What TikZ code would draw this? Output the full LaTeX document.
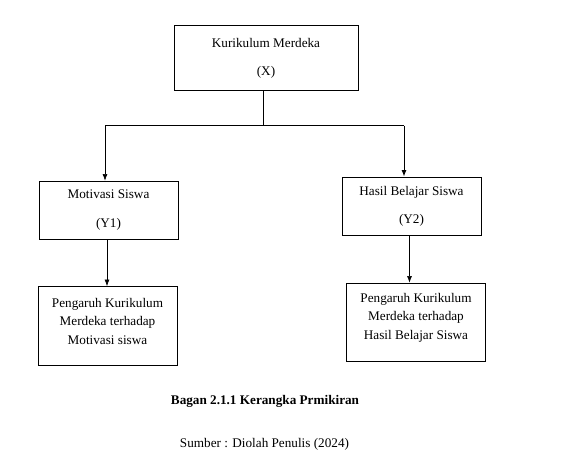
\documentclass[tikz,border=0pt]{standalone}
\usepackage{fontspec}
\setmainfont{Liberation Serif}
\usepackage{tikz}
\usetikzlibrary{positioning}
\usetikzlibrary{arrows.meta}
\tikzset{>={Latex[length=6.5pt,width=5pt]}}
\tikzset{kotak/.style={shape=rectangle, draw, line width=0.9pt, align=center, inner sep=0pt,
    minimum width=139pt, font=\fontsize{13.2}{18.5}\selectfont}}
\tikzset{isi/.style={align=center, font=\fontsize{13.2}{18.5}\selectfont}}
\tikzset{panah/.style={->, line width=0.6pt}}

\begin{document}
\begin{tikzpicture}[x=1pt, y=-1pt]
                    \useasboundingbox (0,0) rectangle (574,454);

                    \node[kotak, minimum width=184pt, minimum height=64.7pt, font=\fontsize{13.2}{28}\selectfont] (X) at (266,58.3) {Kurikulum Merdeka\\(X)};
                    \node[kotak, minimum height=58pt, font=\fontsize{13.2}{29}\selectfont] (Y1) at (108.5,210) {Motivasi Siswa\\(Y1)};
                    \node[kotak, minimum height=58pt, font=\fontsize{13.2}{28}\selectfont] (Y2) at (411.5,206) {Hasil Belajar Siswa\\(Y2)};
                    \node[kotak, minimum height=79pt] (P1) at (107.5,326) {};
                    \node[isi] (P1teks) at (107.5,321) {Pengaruh Kurikulum\\Merdeka terhadap\\Motivasi siswa};
                    \node[kotak, minimum height=78pt] (P2) at (416,322) {};
                    \node[isi] (P2teks) at (416,317.5) {Pengaruh Kurikulum\\Merdeka terhadap\\Hasil Belajar Siswa};

                    \coordinate (J) at (263,125.7);
                    \coordinate (JL) at (105,125.7);
                    \coordinate (JR) at (404,125.7);

                    \draw[line width=0.6pt] ([xshift=-3pt]X.south) -- (J);
                    \draw[line width=1pt] (JL) -- (JR);
                    \draw[panah] (JL) -- (JL |- Y1.north);
                    \draw[panah, line width=0.9pt] (JR) -- (JR |- Y2.north);
                    \draw[panah] ([xshift=-1.5pt]Y1.south) -- ([xshift=-1.5pt]Y1.south |- P1.north);
                    \draw[panah] ([xshift=-2pt]Y2.south) -- ([xshift=-2pt]Y2.south |- P2.north);

                    \node[font=\fontsize{13.2}{16}\selectfont\bfseries] (judul) at (265,401.7) {Bagan 2.1.1 Kerangka Prmikiran};
                    \node[font=\fontsize{13.2}{16}\selectfont] (sumber) at (264.5,444) {Sumber : Diolah Penulis (2024)};

                \end{tikzpicture}
\end{document}
